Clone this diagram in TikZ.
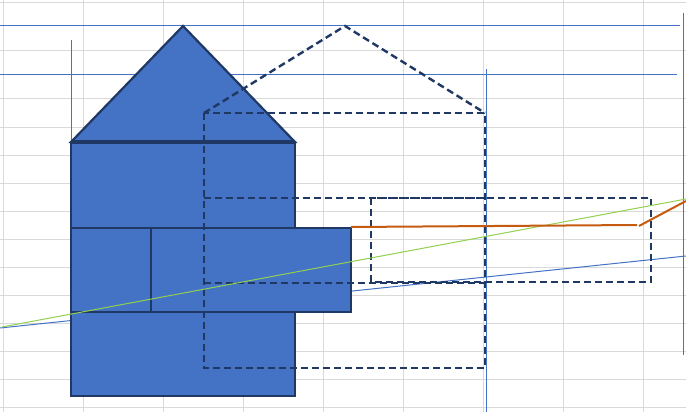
\documentclass[tikz,border=0pt]{standalone}
\definecolor{fillblue}{HTML}{4472C4}
\definecolor{navy}{HTML}{1F3864}
\definecolor{gridgray}{HTML}{D9D9D9}
\definecolor{guideblue}{HTML}{4472C4}
\definecolor{limegreen}{HTML}{92D050}
\definecolor{rust}{HTML}{C55A11}
\tikzset{
  gridline/.style={draw=gridgray, line width=1pt},
  guide/.style={draw=guideblue, line width=1pt},
  housepart/.style={fill=fillblue, draw=navy, line width=2.2pt, line join=miter},
  dashpart/.style={draw=navy, line width=2.4pt, dash pattern=on 7pt off 4pt},
  greenline/.style={draw=limegreen, line width=1pt},
  rustline/.style={draw=rust, line width=2pt}
}
\begin{document}
\begin{tikzpicture}[x=1pt,y=-1pt]
\useasboundingbox (0,0) rectangle (686,412);
\fill[white] (0,0) rectangle (686,412);
% spreadsheet grid
\foreach \x in {3,83,163,243,323,403,483,563,643}
  \draw[gridline] (\x,0) -- (\x,412);
\foreach \y in {3,51,99,127,155,183,211,239,267,295,323,351,379,407}
  \draw[gridline] (0,\y) -- (686,\y);
% blue guide lines (behind the house)
\coordinate (g1a) at (0,25.5);   \coordinate (g1b) at (680,25.5);
\coordinate (g2a) at (0,74.5);   \coordinate (g2b) at (677,74.5);
\coordinate (g3a) at (71.5,40);  \coordinate (g3b) at (71.5,142);
\coordinate (g4a) at (486,69);   \coordinate (g4b) at (486,412);
\coordinate (g5a) at (683,13);   \coordinate (g5b) at (683,355);
\coordinate (g6a) at (0,328);    \coordinate (g6b) at (686,256);
\draw[guide] (g1a) -- (g1b);
\draw[guide] (g2a) -- (g2b);
\draw[guide] (g3a) -- (g3b);
\draw[guide] (g4a) -- (g4b);
\draw[guide] (g5a) -- (g5b);
\draw[guide] (g6a) -- (g6b);
% solid house
\coordinate (roofL) at (71,142);
\coordinate (roofT) at (183,26);
\coordinate (roofR) at (295,142);
\draw[housepart] (roofL) -- (roofT) -- (roofR) -- cycle;
\draw[housepart] (71,142) rectangle (295,228);
\draw[housepart] (71,228) rectangle (151,312);
\draw[housepart] (151,228) rectangle (351,312);
\draw[housepart] (71,312) rectangle (295,396);
\draw[navy, line width=3.2pt] (roofL) -- (roofR);
% dashed house
\coordinate (droofL) at (204,113);
\coordinate (droofT) at (345,26);
\coordinate (droofR) at (485,113);
\draw[dashpart] (droofL) -- (droofT) -- (droofR);
\draw[dashpart] (204,113) rectangle (485,368);
\draw[dashpart] (204,198) -- (485,198);
\draw[dashpart] (204,283) -- (485,283);
\draw[dashpart] (371,198) rectangle (651,282);
% green and orange lines
\coordinate (gra) at (2,327);   \coordinate (grb) at (686,199);
\draw[greenline] (gra) -- (grb);
\coordinate (ra) at (351,227);  \coordinate (rb) at (637,225);
\coordinate (rc) at (639,226);  \coordinate (rd) at (686,201);
\draw[rustline] (ra) -- (rb);
\draw[rustline] (rc) -- (rd);
\end{tikzpicture}
\end{document}
